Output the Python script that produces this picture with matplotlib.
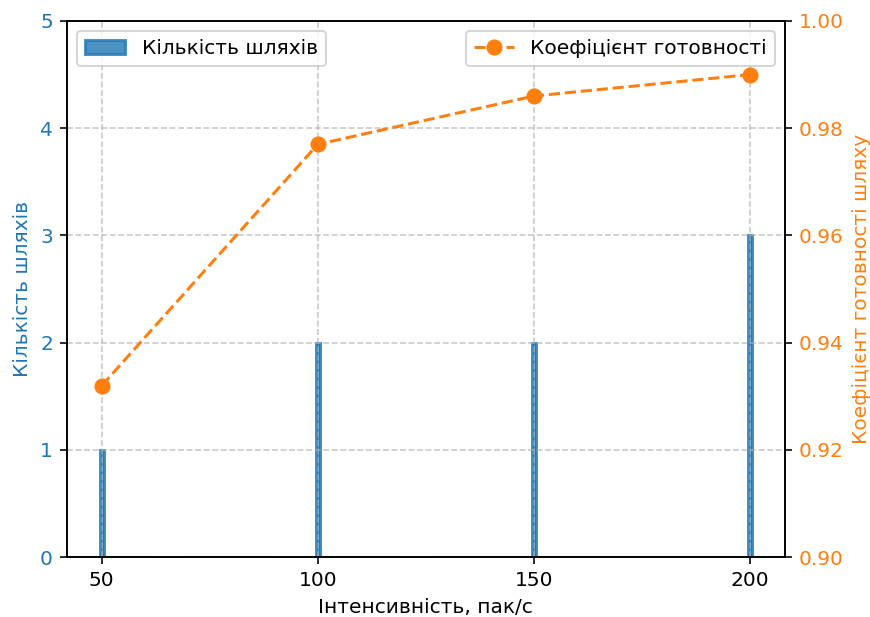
import matplotlib
matplotlib.use("Agg")
import matplotlib.pyplot as plt

# ── data ──
intensity = [50, 100, 150, 200]
paths = [1, 2, 2, 3]
readiness = [0.932, 0.977, 0.986, 0.990]

BLUE, ORANGE = "tab:blue", "tab:orange"
DPI = 145

fig, ax1 = plt.subplots(figsize=(870 / DPI, 617 / DPI), dpi=DPI)
fig.subplots_adjust(left=0.077, right=0.902, top=0.966, bottom=0.097)

ax1.bar(intensity, paths, width=1, color=BLUE, edgecolor=BLUE,
        linewidth=1.5, alpha=0.8, label="Кількість шляхів")
ax1.set_xlabel("Інтенсивність, пак/с")
ax1.set_ylabel("Кількість шляхів", color=BLUE)
ax1.tick_params(axis="y", labelcolor=BLUE)
ax1.set_ylim(0, 5)
ax1.set_xticks(intensity)
ax1.grid(True, linestyle="--", alpha=0.7)
ax1.legend(loc="upper left")

ax2 = ax1.twinx()
ax2.plot(intensity, readiness, "o--", color=ORANGE, markersize=7,
         label="Коефіцієнт готовності")
ax2.set_ylabel("Коефіцієнт готовності шляху", color=ORANGE)
ax2.tick_params(axis="y", labelcolor=ORANGE)
ax2.set_ylim(0.9, 1.0)
ax2.legend(loc="upper right")

fig.savefig("out.png", dpi=DPI)
